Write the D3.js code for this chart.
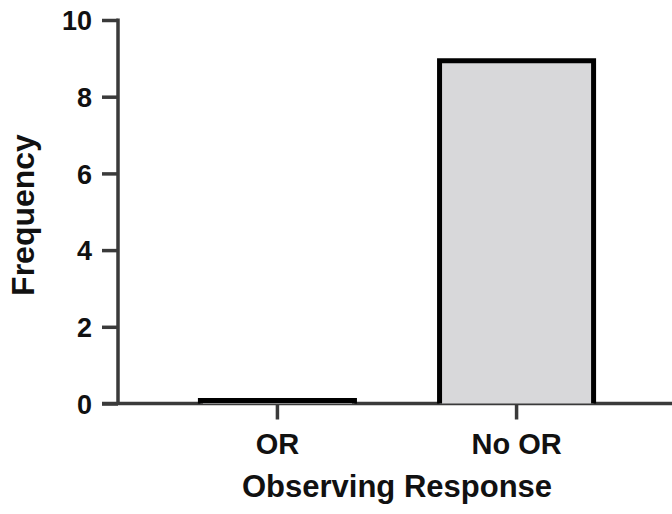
<!DOCTYPE html>
<html>
<head>
<meta charset="utf-8">
<script src="https://cdn.jsdelivr.net/npm/d3@7"></script>
<style>
  body { margin: 0; background: #fff; }
  text { font-family: "Liberation Sans", Arial, sans-serif; font-weight: bold; fill: #111; }
</style>
</head>
<body>
<script>
// data
var categories = ["OR", "No OR"];
var frequencies = [0, 9];
var yTicks = [0, 2, 4, 6, 8, 10];

var W = 672, H = 514;
var x0 = 118, x1 = 674, yTop = 20, yBottom = 403.5;

var svg = d3.select("body").append("svg")
    .attr("width", W)
    .attr("height", H);

//Define Scales
var yScale = d3.scaleLinear()
    .domain([0, 10])
    .range([yBottom, yTop]);

var xScale = d3.scaleBand()
    .domain(categories)
    .range([x0 + 1, x1 + 1])
    .paddingInner(0.335)
    .paddingOuter(0.33);

//Y-axis
var yAxis = d3.axisLeft(yScale)
    .tickValues(yTicks)
    .tickSize(16)
    .tickPadding(10)
    .tickSizeOuter(0);

var gY = svg.append("g")
    .attr("transform", "translate(" + x0 + ",0)")
    .call(yAxis);
gY.select(".domain").attr("d", "M0," + (yTop - 1.5) + "V" + (yBottom + 1.5));
gY.selectAll("text").style("font-size", "27px").attr("dy", "0.36em");

//X-axis
var xAxis = d3.axisBottom(xScale)
    .tickSize(16)
    .tickPadding(14)
    .tickSizeOuter(0);

var gX = svg.append("g")
    .attr("transform", "translate(0," + yBottom + ")")
    .call(xAxis);
gX.select(".domain").attr("d", "M102,0H" + W);
gX.selectAll("text").style("font-size", "29px");

svg.selectAll(".domain, .tick line")
    .style("stroke", "#3a3a3a")
    .style("stroke-width", 3.5);

// bars, border drawn inside the bar like Prism does; a zero bar shows as a thick line
var sw = 5;
svg.selectAll(".bar")
    .data(categories)
    .enter().append("path")
    .attr("class", "bar")
    .attr("d", function(d, i) {
        var left = xScale(d) + sw / 2,
            right = xScale(d) + xScale.bandwidth() - sw / 2,
            top = Math.min(yScale(frequencies[i]) + sw / 2, yScale(0) - sw / 2 - 0.5);
        return "M" + left + "," + yScale(0) + "V" + top + "H" + right + "V" + yScale(0);
    })
    .style("fill", "#d8d8da")
    .style("stroke", "#000")
    .style("stroke-width", sw);

// axis titles
svg.append("text")
    .attr("x", (x0 + W) / 2 + 2)
    .attr("y", 497)
    .style("text-anchor", "middle")
    .style("font-size", "31px")
    .text("Observing Response");

svg.append("text")
    .attr("transform", "translate(34,215) rotate(-90)")
    .style("text-anchor", "middle")
    .style("font-size", "32px")
    .text("Frequency");
</script>
</body>
</html>
